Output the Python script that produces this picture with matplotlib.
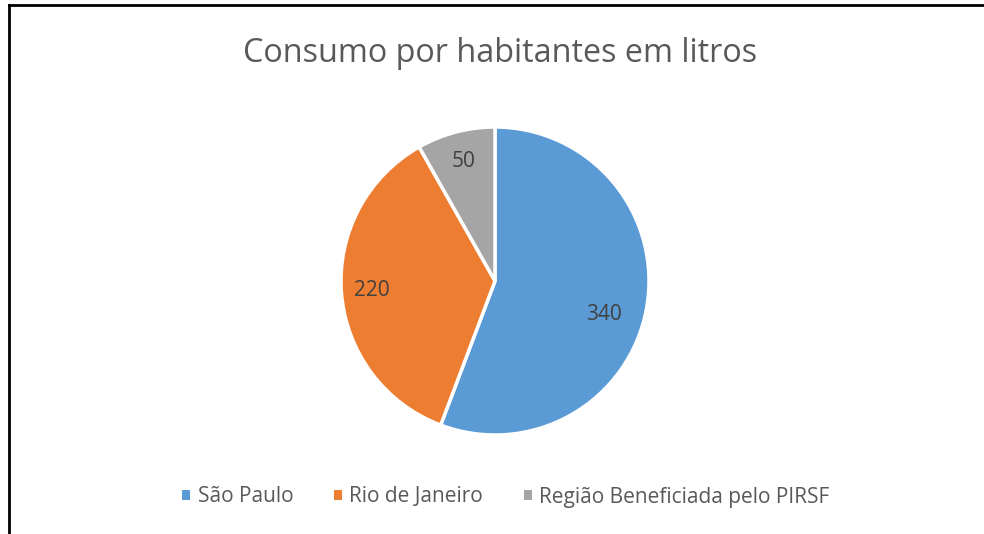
import numpy as np
import matplotlib.pyplot as plt
from matplotlib.lines import Line2D
from matplotlib.patches import Patch

plt.rcParams['font.family'] = ['Open Sans', 'DejaVu Sans']

# data
regioes = ['São Paulo', 'Rio de Janeiro', 'Região Beneficiada pelo PIRSF']
consumo = [340, 220, 50]
cores = ['#5B9BD5', '#ED7D31', '#A5A5A5']

fig = plt.figure(figsize=(9.84, 5.34), dpi=100)

# border lines like the source screenshot
fig.add_artist(Line2D([9 / 984, 9 / 984], [0, 1 - 5 / 534], color='black', lw=2))
fig.add_artist(Line2D([9 / 984, 1], [1 - 5 / 534, 1 - 5 / 534], color='black', lw=2))

fig.text(0.508, 1 - 53 / 534, 'Consumo por habitantes em litros',
         ha='center', va='center', fontsize=23.3, color='#595959')

# pie area (center ~ (495, 281), radius ~ 154 px)
cx, cy, r = 495, 281, 154
lim = 1.02
ax = fig.add_axes([(cx - r * lim) / 984, 1 - (cy + r * lim) / 534,
                   2 * r * lim / 984, 2 * r * lim / 534])


def fmt(p):
    return str(min(consumo, key=lambda v: abs(v / sum(consumo) * 100 - p)))


wedges, texts, autotexts = ax.pie(
    consumo, colors=cores, startangle=90, counterclock=False,
    autopct=fmt, pctdistance=0.80, radius=1,
    wedgeprops=dict(edgecolor='white', linewidth=2.5),
    textprops=dict(fontsize=15, color='#404040'))
ax.set_xlim(-lim, lim)
ax.set_ylim(-lim, lim)
ax.set_aspect('equal')

# Excel's "best fit" puts the big slice's label a bit lower
w = wedges[0]
ang = np.deg2rad((w.theta1 + w.theta2) / 2 - 7)
autotexts[0].set_position((0.74 * np.cos(ang), 0.74 * np.sin(ang)))

handles = [Patch(facecolor=c, edgecolor='none') for c in cores]
fig.legend(handles, regioes, loc='center', bbox_to_anchor=(0.514, 1 - 497 / 534),
           ncol=3, frameon=False, fontsize=15, labelcolor='#595959',
           handlelength=0.4, handleheight=0.4, handletextpad=0.35, columnspacing=1.95)

plt.savefig('out.png', dpi=100)
